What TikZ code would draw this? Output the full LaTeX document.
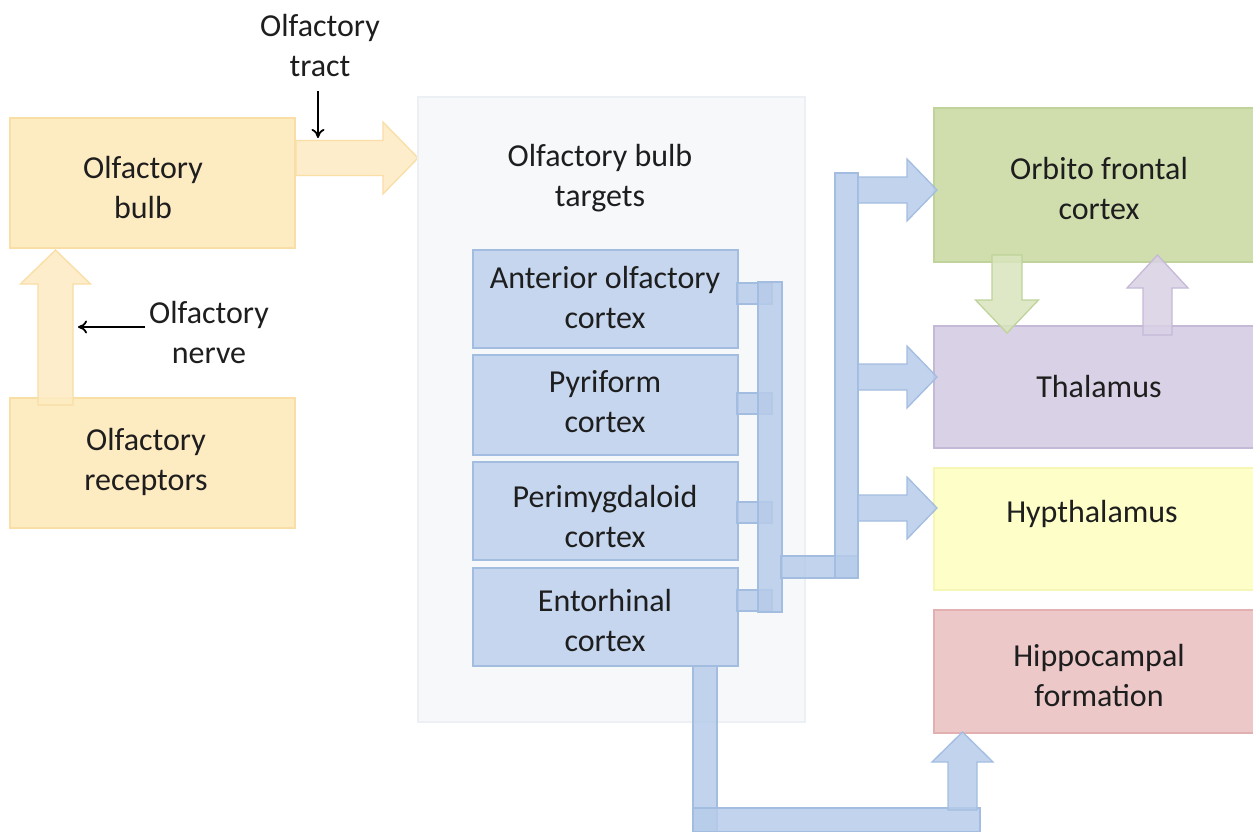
\documentclass[tikz,border=0pt]{standalone}
\usepackage{fontspec}
\setmainfont{Carlito}
\usetikzlibrary{arrows.meta}
\definecolor{txtc}{HTML}{1E1E1E}
\definecolor{orF}{HTML}{FDEBC2}
\definecolor{orD}{HTML}{F9DEA6}
\definecolor{grF}{HTML}{F6F8FA}
\definecolor{grD}{HTML}{ECEFF3}
\definecolor{blF}{HTML}{C5D6EE}
\definecolor{blB}{HTML}{B7CCEA}
\definecolor{blD}{HTML}{A3BDE1}
\definecolor{gnF}{HTML}{D0DEAE}
\definecolor{gnD}{HTML}{BFD39A}
\definecolor{puF}{HTML}{D9D1E5}
\definecolor{puD}{HTML}{C5B9D8}
\definecolor{yeF}{HTML}{FEFEC9}
\definecolor{yeD}{HTML}{F6F6B6}
\definecolor{piF}{HTML}{ECC8C8}
\definecolor{piD}{HTML}{E2B0B0}
\tikzset{
  boxbase/.style={rectangle, line width=1.3pt, inner sep=0pt},
  obox/.style={boxbase, fill=orF, draw=orD},
  gbox/.style={boxbase, fill=grF, draw=grD},
  bbox/.style={boxbase, fill=blF, draw=blD},
  greenbox/.style={boxbase, fill=gnF, draw=gnD},
  purplebox/.style={boxbase, fill=puF, draw=puD},
  yellowbox/.style={boxbase, fill=yeF, draw=yeD},
  pinkbox/.style={boxbase, fill=piF, draw=piD},
  txt/.style={align=center, text=txtc, inner sep=0pt, font=\fontsize{32}{40}\selectfont},
  oarr/.style={fill=orF, draw=orD, line width=1.3pt, fill opacity=0.85},
  barr/.style={fill=blB, draw=blD, line width=1.3pt, fill opacity=0.85},
  garr/.style={fill=gnF!80!white, draw=gnD, line width=1.3pt, fill opacity=0.85},
  parr/.style={fill=puF, draw=puD, line width=1.3pt, fill opacity=0.85},
  thin/.style={-{To[length=9pt,width=13pt]}, line width=1.8pt, black},
}
% right block arrow: x0, xtip, yc, shaft half, head half, head length, style
\newcommand\blkRight[7]{\filldraw[#7] (#1,#3-#4) -- (#2-#6,#3-#4) -- (#2-#6,#3-#5) -- (#2,#3) -- (#2-#6,#3+#5) -- (#2-#6,#3+#4) -- (#1,#3+#4) -- cycle;}
% up block arrow: xc, ybottom, ytip, shaft half, head half, head length, style
\newcommand\blkUp[7]{\filldraw[#7] (#1-#4,#2) -- (#1-#4,#3+#6) -- (#1-#5,#3+#6) -- (#1,#3) -- (#1+#5,#3+#6) -- (#1+#4,#3+#6) -- (#1+#4,#2) -- cycle;}
% down block arrow: xc, ytop, ytip, shaft half, head half, head length, style
\newcommand\blkDown[7]{\filldraw[#7] (#1-#4,#2) -- (#1-#4,#3-#6) -- (#1-#5,#3-#6) -- (#1,#3) -- (#1+#5,#3-#6) -- (#1+#4,#3-#6) -- (#1+#4,#2) -- cycle;}
\begin{document}
\begin{tikzpicture}[x=1pt,y=-1pt]
\useasboundingbox (0,0) rectangle (1253,832);
\fill[white] (0,0) rectangle (1253,832);

% left column
\node[obox, minimum width=285pt, minimum height=130pt] (bulb) at (152.5,183) {};
\node[txt] (bulbtxt) at (143,188) {Olfactory\\bulb};
\node[obox, minimum width=285pt, minimum height=130pt] (recep) at (152.5,463) {};
\node[txt] (receptxt) at (146,462) {Olfactory\\receptors};

\blkUp{55.5}{405}{250}{17.5}{35}{34}{oarr}
\blkRight{296}{418}{158}{17.5}{36}{35}{oarr}

\node[txt] (tractlbl) at (320,46) {Olfactory\\tract};
\coordinate (tractend) at (318,138);
\draw[thin] (318,91) -- (tractend);

\node[txt] (nervelbl) at (209,332) {Olfactory\\nerve};
\coordinate (nerveend) at (78,327);
\draw[thin] (145,327) -- (nerveend);

% middle container
\node[gbox, minimum width=387pt, minimum height=625pt] (targets) at (611.5,409.5) {};
\node[txt] (targetstxt) at (600,178) {Olfactory bulb\\targets};

\node[bbox, minimum width=265pt, minimum height=98pt] (aoc) at (605.5,299) {};
\node[txt] at (605,298) {Anterior olfactory\\cortex};
\node[bbox, minimum width=265pt, minimum height=100pt] (pyr) at (605.5,405) {};
\node[txt] at (605,402) {Pyriform\\cortex};
\node[bbox, minimum width=265pt, minimum height=98pt] (peri) at (605.5,511) {};
\node[txt] at (605,517) {Perimygdaloid\\cortex};
\node[bbox, minimum width=265pt, minimum height=98pt] (ento) at (605.5,617) {};
\node[txt] at (605,621) {Entorhinal\\cortex};

% right column
\node[greenbox, minimum width=331pt, minimum height=154pt] (ofc) at (1099.5,185) {};
\node[txt] at (1099,189) {Orbito frontal\\cortex};
\node[purplebox, minimum width=331pt, minimum height=122pt] (thal) at (1099.5,387) {};
\node[txt] at (1099,387) {Thalamus};
\node[yellowbox, minimum width=331pt, minimum height=122pt] (hyp) at (1099.5,529) {};
\node[txt] at (1092,514) {Hypthalamus};
\node[pinkbox, minimum width=331pt, minimum height=123pt] (hip) at (1099.5,671.5) {};
\node[txt] at (1099,676) {Hippocampal\\formation};

% bus from targets
\filldraw[barr] (737,283) rectangle (772,304);
\filldraw[barr] (737,393) rectangle (772,414);
\filldraw[barr] (737,502) rectangle (772,523);
\filldraw[barr] (737,590) rectangle (772,611);
\filldraw[barr] (758,282) rectangle (782,612);
\filldraw[barr] (781,556) rectangle (858,578);
\filldraw[barr] (835,173) rectangle (858,578);

\blkRight{858}{937}{190}{13}{31}{30}{barr}
\blkRight{858}{937}{377}{13}{31}{30}{barr}
\blkRight{858}{937}{508}{13}{31}{30}{barr}

% entorhinal to hippocampal
\filldraw[barr] (693,666) rectangle (717,832);
\filldraw[barr] (693,808) rectangle (980,832);
\blkUp{962.5}{810}{732}{14.5}{30.5}{30}{barr}

% ofc <-> thalamus
\blkDown{1007}{255}{333}{15}{31.5}{33}{garr}
\blkUp{1157.5}{335}{255}{14.5}{30.5}{33}{parr}
\end{tikzpicture}
\end{document}
